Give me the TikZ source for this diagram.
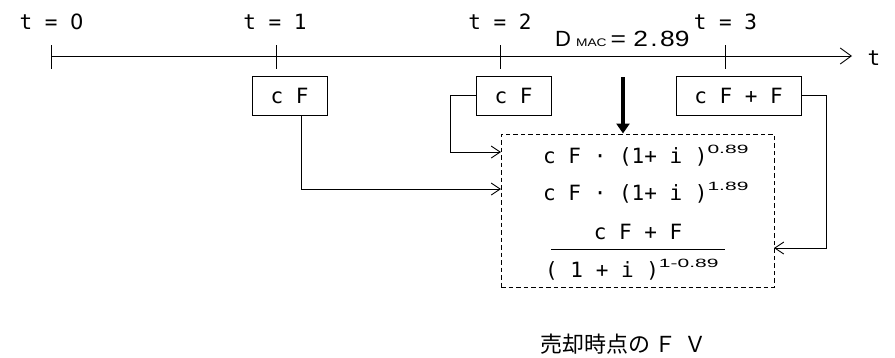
\documentclass[tikz,border=0pt]{standalone}
\usepackage{fontspec}
\usepackage{graphicx}
\setmainfont{DejaVu Sans Mono}
\newfontfamily\jpfont{Noto Sans CJK JP}
\newfontfamily\arialfont{Liberation Sans}
\newfontfamily\dvsfont{DejaVu Sans}
\usetikzlibrary{arrows.meta}
\newcommand\supx[1]{\raisebox{10pt}{\arialfont\fontsize{12}{12}\selectfont\scalebox{1.75}[1]{#1}}}
\begin{document}
\begin{tikzpicture}[x=1pt,y=-1pt,
  lbl/.style={inner sep=0pt, font=\fontsize{21}{21}\selectfont},
  valbox/.style={draw, line width=0.9pt, minimum height=39pt, inner sep=0pt, font=\fontsize{21}{21}\selectfont},
  fvbox/.style={draw, line width=1pt, dash pattern=on 4.5pt off 3pt, inner sep=0pt},
  conn/.style={line width=0.9pt, -{Straight Barb[length=9pt,width=12pt,line width=0.9pt]}},
  axisline/.style={line width=0.9pt, -{Straight Barb[length=11pt,width=16pt,line width=0.9pt]}},
  tickline/.style={line width=0.9pt},
  bigarrow/.style={line width=3.5pt, -{Triangle[length=10pt,width=13pt]}}
]
\useasboundingbox (0,0) rectangle (895,357);

% time axis
\coordinate (t0) at (51,56);
\coordinate (tend) at (852,56);
\draw[axisline] (t0) -- (tend);
\foreach \x in {51,276,500,725} \draw[tickline] (\x,45) -- (\x,69);
\node[lbl, anchor=base] (l0) at (51.5,29) {t = {\dvsfont 0}};
\node[lbl, anchor=base] (l1) at (275,29) {t = 1};
\node[lbl, anchor=base] (l2) at (500,29) {t = 2};
\node[lbl, anchor=base] (l3) at (725.5,29) {t = 3};
\node[lbl, anchor=base] (tlab) at (874,65) {t};

% D_MAC
\node[inner sep=0pt, anchor=base west] (dmac) at (555,46)
  {\arialfont\fontsize{22}{22}\selectfont D\kern5pt{\fontsize{11}{11}\selectfont\scalebox{1.25}[1]{MAC}}\kern4pt\scalebox{1.2}[1]{= 2\kern2pt.\kern2pt89}};

% cash flow boxes
\node[valbox, minimum width=75pt] (b1) at (289.5,95.5) {c F};
\node[valbox, minimum width=75pt] (b2) at (513.5,95.5) {c F};
\node[valbox, minimum width=125pt] (b3) at (738.5,95.5) {c F + F};

% FV box
\node[fvbox, minimum width=273pt, minimum height=153pt] (fv) at (637.5,210.5) {};
\node[lbl, anchor=base west] (f1) at (543,163) {c F · (1+ i )\supx{0.89}};
\node[lbl, anchor=base west] (f2) at (543,200) {c F · (1+ i )\supx{1.89}};
\node[lbl, anchor=base] (f3) at (638,239) {c F + F};
\coordinate (fl) at (551,249);
\coordinate (fr) at (725,249);
\draw[line width=0.9pt] (fl) -- (fr);
\node[lbl, anchor=base west] (f4) at (545,277) {( 1 + i )\supx{1-0.89}};

% connectors
\coordinate (in1) at (501,152);
\coordinate (in2) at (501,189);
\coordinate (in3) at (774,248);
\draw[conn] ([xshift=11.5pt]b1.south) |- (in2);
\draw[conn] (b2.west) -- ++(-25,0) |- (in1);
\draw[conn] (b3.east) -- ++(25,0) |- (in3);

% big arrow
\coordinate (dtop) at (623,77);
\draw[bigarrow] (dtop) -- (fv.north -| dtop);

% caption
\node[inner sep=0pt, anchor=base west] (cap) at (540,352)
  {\jpfont\fontsize{22}{22}\selectfont 売却時点の\kern4pt Ｆ\kern8pt Ｖ};
\end{tikzpicture}
\end{document}
